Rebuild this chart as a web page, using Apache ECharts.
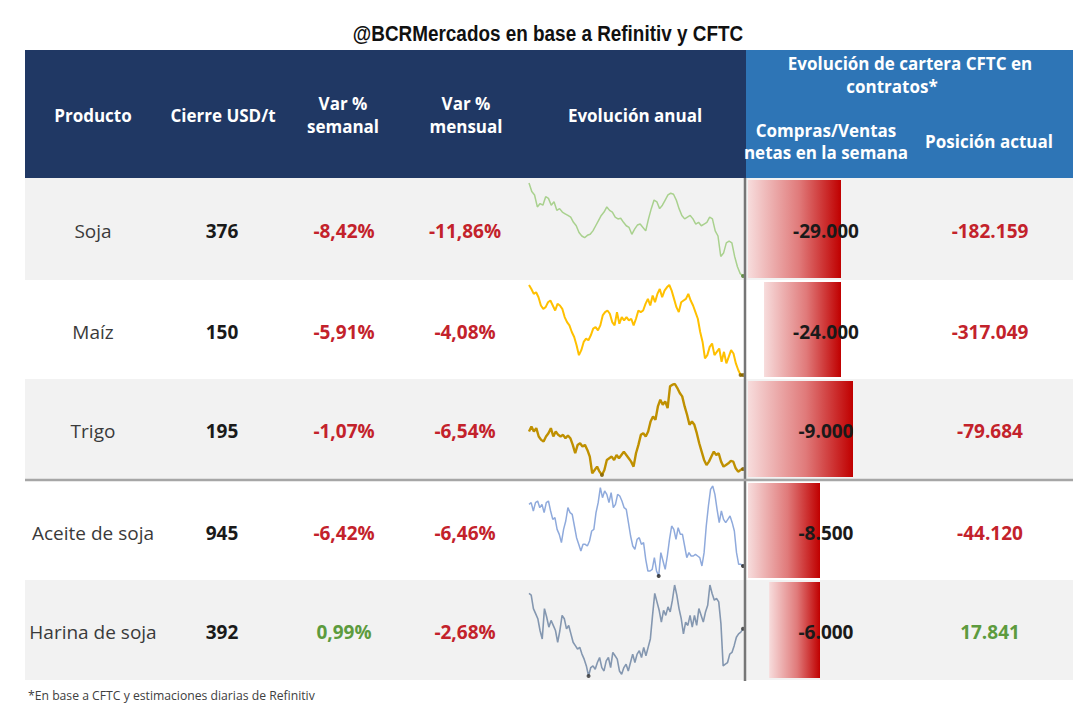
<!DOCTYPE html>
<html>
<head>
<meta charset="utf-8">
<script src="https://cdn.jsdelivr.net/npm/echarts@6/dist/echarts.min.js"></script>
<style>
html,body{margin:0;padding:0;background:#fff;}
#chart{width:1089px;height:721px;}
</style>
</head>
<body>
<div id="chart"></div>
<script>
// ---------------- DATA ----------------
const titleText = '@BCRMercados en base a Refinitiv y CFTC';
const footnote = '*En base a CFTC y estimaciones diarias de Refinitiv';
const headers = ['Producto', 'Cierre USD/t', 'Var %\nsemanal', 'Var %\nmensual', 'Evolución anual'];
const cftcHeader = ['Evolución de cartera CFTC en', 'contratos*'];
const cftcSubHeaders = ['Compras/Ventas\nnetas en la semana', 'Posición actual'];

const products = ['Soja', 'Maíz', 'Trigo', 'Aceite de soja', 'Harina de soja'];
const closeUsd = [376, 150, 195, 945, 392];
const varSemanal = [-8.42, -5.91, -1.07, -6.42, 0.99];
const varMensual = [-11.86, -4.08, -6.54, -6.46, -2.68];
const cftcWeek = [-29000, -24000, -9000, -8500, -6000];
const cftcPos = [-182159, -317049, -79684, -44120, 17841];
// rows that share one data-bar scale (as in the conditional formatting)
const cftcBarGroup = [0, 0, 1, 2, 2];

// Yearly evolution (sparklines), relative level
const sojaSpark = [275,250,240,205,215,210,235,230,210,220,195,200,190,185,180,175,160,150,130,120,115,122,125,135,150,165,180,190,205,195,190,175,170,172,160,150,145,125,140,152,155,145,135,170,200,225,220,200,210,225,240,245,242,225,200,180,170,175,180,170,155,160,150,155,160,175,170,135,120,60,70,100,105,100,60,30,10,3];
const maizSpark = [272,260,245,250,235,210,200,205,220,225,210,195,215,210,200,175,160,150,130,115,90,60,75,100,110,105,120,140,145,135,150,180,190,195,185,160,150,190,155,175,165,175,165,170,150,170,195,190,195,215,230,210,240,220,245,260,235,255,265,272,255,230,205,190,220,225,230,245,225,210,190,170,130,100,50,60,85,95,60,70,80,40,70,35,55,75,65,35,15,0,0];
const trigoSpark = [130,145,130,140,115,105,100,115,125,140,115,130,120,115,120,110,118,110,90,65,90,95,85,90,75,55,5,15,25,10,0,15,45,50,55,45,60,50,60,70,60,50,40,25,65,90,120,125,115,130,160,175,165,205,225,210,220,200,265,270,272,260,245,235,205,180,150,160,150,125,95,70,45,30,40,55,70,60,65,40,25,30,35,42,40,20,10,15,18];
const aceiteSpark = [215,220,195,220,225,205,215,190,220,225,195,170,175,140,125,100,140,165,205,190,185,150,115,95,75,95,95,90,105,135,140,190,220,265,235,255,245,220,250,205,215,245,240,225,205,200,160,120,90,80,110,115,95,100,50,15,15,20,55,15,0,70,45,20,60,110,150,140,110,145,125,125,90,55,70,60,60,65,60,55,30,70,150,210,260,270,245,200,160,195,170,160,170,180,160,135,70,35,35,30];
const harinaSpark = [245,240,200,185,170,135,110,200,175,145,165,150,135,100,135,180,170,140,150,125,100,90,80,85,65,50,30,0,25,30,20,40,55,25,15,45,55,25,70,60,50,15,5,25,35,15,40,65,40,65,75,55,85,60,85,110,180,245,220,195,160,195,180,205,190,225,270,240,200,170,125,160,150,180,145,180,150,200,180,160,190,210,270,245,225,230,220,155,30,35,40,65,70,90,115,125,130,140];
const sparks = [sojaSpark, maizSpark, trigoSpark, aceiteSpark, harinaSpark];

// ---------------- STYLE / LAYOUT ----------------
const FONT = '"Open Sans", "Noto Sans", sans-serif';
const tableLeft = 25, tableRight = 1073, splitX = 746;
const headTop = 50, headBottom = 178;
const rowTop = [178, 280, 379, 481, 580];
const rowH = [102, 99, 100, 99, 100];
const rowBg = ['#f2f2f2', '#ffffff', '#f2f2f2', '#ffffff', '#f2f2f2'];
const sparkColor = ['#a9d18e', '#ffc000', '#bf9000', '#8faadc', '#8497b0'];
const sparkWidth = [1.5, 2, 2.4, 1.5, 1.6];
const sparkMarker = ['#4e7a30', '#7f6000', '#7f6000', '#1f1f1f', '#333333'];
const groupWidth = [93, 105, 72];
const colX = {prod: 93, close: 222, sem: 344, men: 465, week: 826, pos: 990};
const RED = '#c3222b', GREEN = '#5d9b3e';

function fmtPct(v) { return v.toFixed(2).replace('.', ',') + '%'; }
function fmtThousands(v) {
  const s = Math.abs(v).toString().replace(/\B(?=(\d{3})+(?!\d))/g, '.');
  return (v < 0 ? '-' : '') + s;
}

const chart = echarts.init(document.getElementById('chart'), null, {renderer: 'svg'});

const graphics = [];
// header backgrounds
graphics.push({type: 'rect', shape: {x: tableLeft, y: headTop, width: splitX - tableLeft, height: headBottom - headTop}, style: {fill: '#203864'}, z: 0});
graphics.push({type: 'rect', shape: {x: splitX, y: headTop, width: tableRight - splitX, height: headBottom - headTop}, style: {fill: '#2e75b6'}, z: 0});
// row backgrounds
for (let i = 0; i < 5; i++) {
  graphics.push({type: 'rect', shape: {x: tableLeft, y: rowTop[i], width: tableRight - tableLeft, height: rowH[i]}, style: {fill: rowBg[i]}, z: 0});
}
function txt(text, x, y, opts, extra) {
  graphics.push(Object.assign({
    type: 'text', x: x, y: y, z: 100,
    style: Object.assign({text: text, align: 'center', verticalAlign: 'middle', fontFamily: FONT, fontSize: 16, fill: '#000'}, opts || {})
  }, extra || {}));
}
// title (condensed bold)
txt(titleText, 548, 33, {fontFamily: '"Liberation Sans", Arial, sans-serif', fontWeight: 'bold', fontSize: 22, fill: '#111'}, {scaleX: 0.86});
// headers
const hStyle = {fontWeight: 'bold', fontSize: 17, fill: '#ffffff', lineHeight: 23};
txt(headers[0], 93, 115, hStyle);
txt(headers[1], 223, 115, hStyle);
txt(headers[2], 343, 115, hStyle);
txt(headers[3], 466, 115, hStyle);
txt(headers[4], 635, 115, hStyle);
txt(cftcHeader[0], 910, 63, hStyle);
txt(cftcHeader[1], 892, 86, hStyle);
txt(cftcSubHeaders[0], 826, 141, Object.assign({}, hStyle, {lineHeight: 22}));
txt(cftcSubHeaders[1], 989, 141, hStyle);
// body text
for (let i = 0; i < 5; i++) {
  const cy = rowTop[i] + rowH[i] / 2 + 2;
  txt(products[i], colX.prod, cy, {fontSize: 19, fill: '#3a3a3a'});
  txt(String(closeUsd[i]), colX.close, cy, {fontSize: 19, fontWeight: 'bold', fill: '#1a1a1a'});
  txt(fmtPct(varSemanal[i]), colX.sem, cy, {fontSize: 19, fontWeight: 'bold', fill: varSemanal[i] < 0 ? RED : GREEN});
  txt(fmtPct(varMensual[i]), colX.men, cy, {fontSize: 19, fontWeight: 'bold', fill: varMensual[i] < 0 ? RED : GREEN});
  txt(fmtThousands(cftcWeek[i]), colX.week, cy, {fontSize: 19, fontWeight: 'bold', fill: '#1a1a1a'});
  txt(fmtThousands(cftcPos[i]), colX.pos, cy, {fontSize: 19, fontWeight: 'bold', fill: cftcPos[i] < 0 ? RED : GREEN});
}
// separators
graphics.push({type: 'line', z: 90, shape: {x1: 745, y1: headBottom, x2: 745, y2: 681}, style: {stroke: '#767676', lineWidth: 2.5}});
graphics.push({type: 'line', z: 90, shape: {x1: tableLeft, y1: 480, x2: tableRight, y2: 480}, style: {stroke: '#a6a6a6', lineWidth: 2.5}});
// footnote
txt(footnote, 28, 695, {align: 'left', fontSize: 12.2, fill: '#404040'});

// ---------------- SERIES ----------------
const grid = [], xAxis = [], yAxis = [], series = [];
for (let i = 0; i < 5; i++) {
  // sparkline
  let k = grid.length;
  grid.push({left: 529, top: rowTop[i] + 5, width: 214, height: rowH[i] - 9});
  xAxis.push({gridIndex: k, type: 'category', boundaryGap: false, show: false, data: sparks[i].map((_, j) => j)});
  yAxis.push({gridIndex: k, type: 'value', show: false, scale: true, min: 'dataMin', max: 'dataMax'});
  series.push({type: 'line', xAxisIndex: k, yAxisIndex: k, data: sparks[i], showSymbol: false, silent: true,
    lineStyle: {color: sparkColor[i], width: sparkWidth[i]}, z: 5});
  const d = sparks[i];
  let lo = 0; d.forEach((v, j) => { if (v < d[lo]) lo = j; });
  const marks = [[lo, d[lo]]];
  if (lo !== d.length - 1) marks.push([d.length - 1, d[d.length - 1]]);
  series.push({type: 'scatter', xAxisIndex: k, yAxisIndex: k, data: marks, symbolSize: 4, silent: true,
    itemStyle: {color: sparkMarker[i]}, z: 6});
  // data bar
  k = grid.length;
  const g = cftcBarGroup[i];
  const gMin = Math.min.apply(null, cftcWeek.filter((_, j) => cftcBarGroup[j] === g));
  grid.push({left: 748, top: rowTop[i] + 2, width: groupWidth[g], height: rowH[i] - 4});
  xAxis.push({gridIndex: k, type: 'value', show: false, min: gMin, max: 0});
  yAxis.push({gridIndex: k, type: 'category', show: false, data: [products[i]]});
  series.push({type: 'bar', xAxisIndex: k, yAxisIndex: k, data: [cftcWeek[i]], barWidth: '100%', silent: true, z: 5,
    itemStyle: {color: new echarts.graphic.LinearGradient(0, 0, 1, 0, [
      {offset: 0, color: '#f7dcdc'}, {offset: 0.55, color: '#e07a7a'}, {offset: 1, color: '#c00000'}])}});
}

chart.setOption({
  animation: false,
  backgroundColor: '#ffffff',
  grid: grid, xAxis: xAxis, yAxis: yAxis, series: series,
  graphic: {elements: graphics}
});
</script>
</body>
</html>
